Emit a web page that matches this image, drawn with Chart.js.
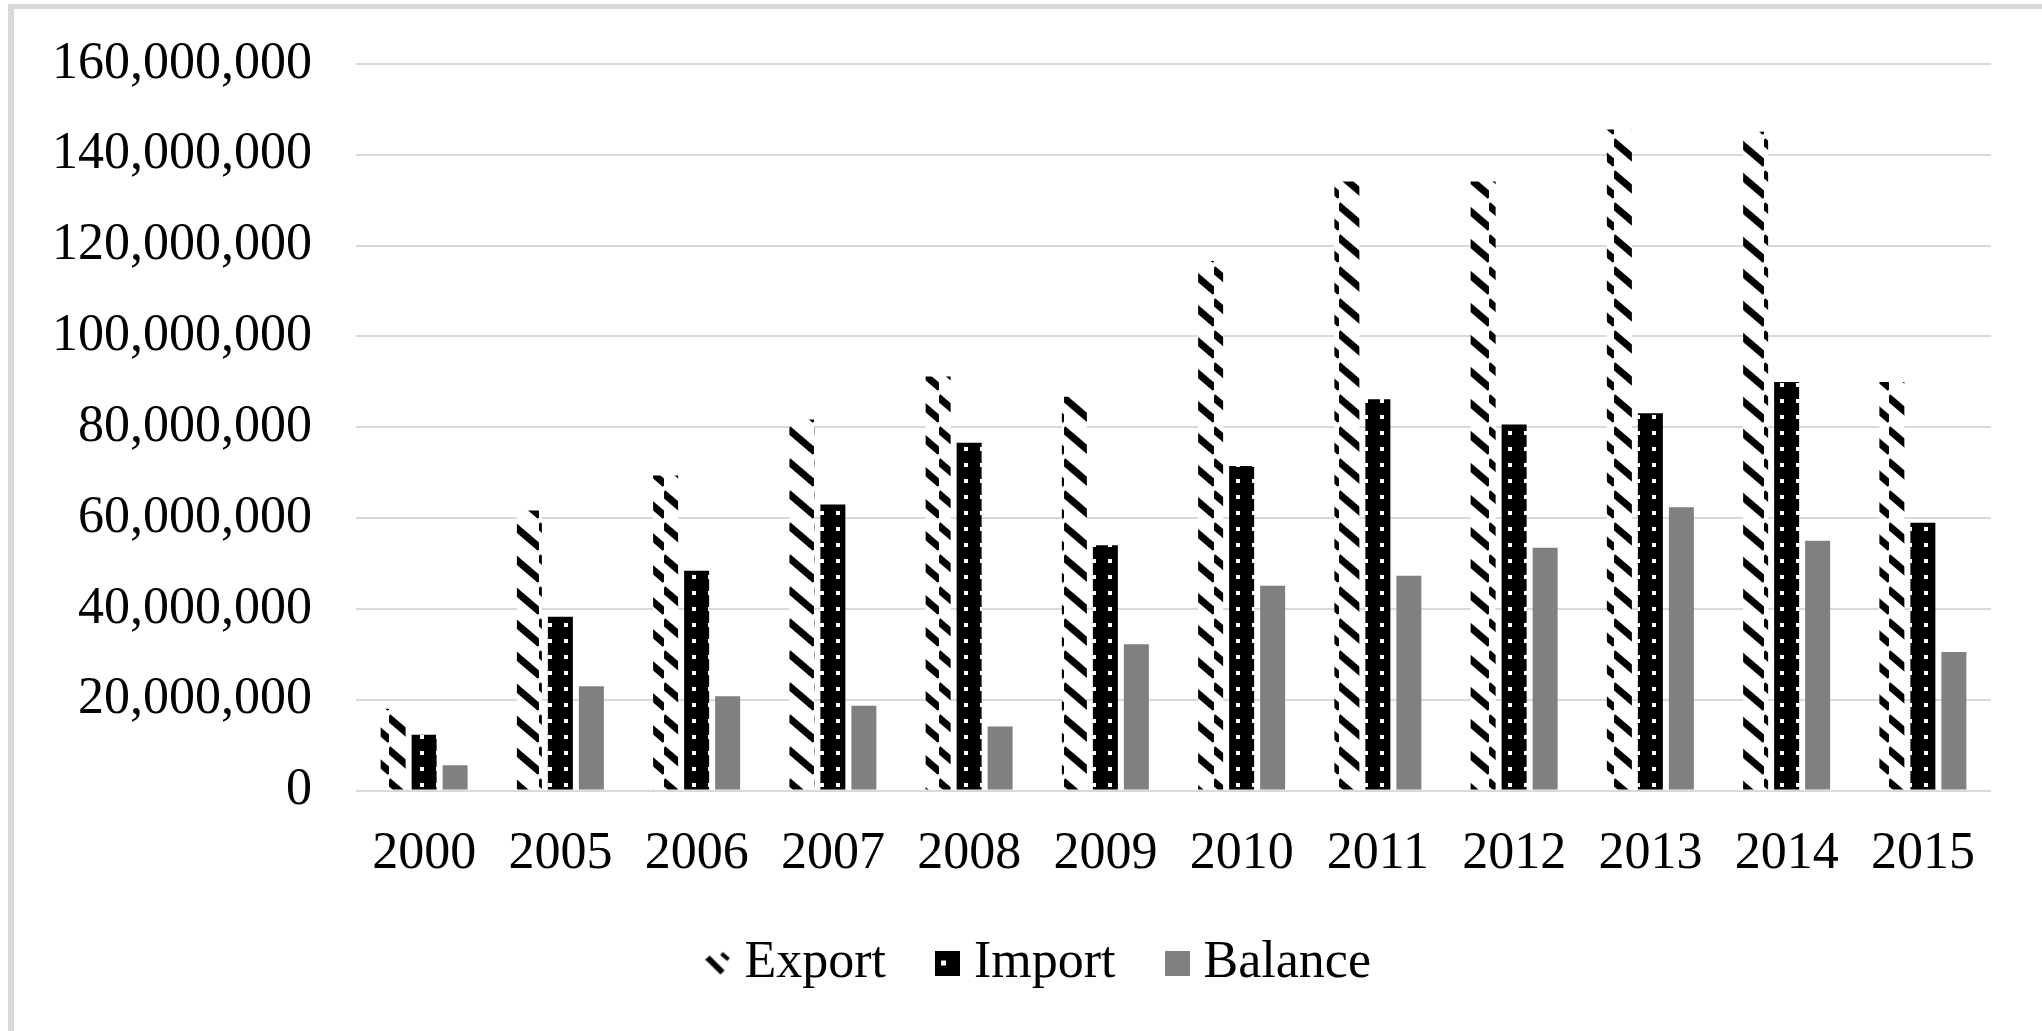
<!DOCTYPE html>
<html>
<head>
<meta charset="utf-8">
<script src="https://cdn.jsdelivr.net/npm/chart.js@4.4.0/dist/chart.umd.min.js"></script>
<style>
  html, body { margin: 0; padding: 0; background: #fff; overflow: hidden; }
  #frame {
    position: absolute; left: 8px; top: 4px; width: 2100px; height: 1100px;
    border-left: 6px solid #d9d9d9; border-top: 5px solid #d9d9d9;
  }
  #wrap { position: absolute; left: 14px; top: 9px; width: 2150px; height: 1060px; }
</style>
</head>
<body>
<div id="frame"></div>
<div id="wrap"><canvas id="myChart"></canvas></div>
<script>
// values in USD
var years = ["2000", "2005", "2006", "2007", "2008", "2009", "2010", "2011", "2012", "2013", "2014", "2015"];
var exportData = [18.0, 61.7, 69.4, 81.7, 91.2, 86.7, 116.6, 134.1, 134.1, 145.6, 145.1, 90.0].map(v => v * 1e6);
var importData = [12.3, 38.3, 48.4, 63.0, 76.6, 54.0, 71.5, 86.2, 80.6, 83.1, 90.0, 59.0].map(v => v * 1e6);
var balanceData = [5.6, 23.0, 20.8, 18.7, 14.1, 32.2, 45.1, 47.3, 53.5, 62.4, 55.0, 30.5].map(v => v * 1e6);
var seriesNames = ["Export", "Import", "Balance"];

var FONT = "'Liberation Serif', 'Times New Roman', serif";

function tile(w, h) {
    var c = document.createElement("canvas");
    c.width = w; c.height = h;
    return c;
}

// black dashes going down to the right on white
var exportTile = tile(25, 32);
(function() {
    var g = exportTile.getContext("2d");
    g.fillStyle = "#fff";
    g.fillRect(0, 0, 25, 32);
    g.strokeStyle = "#000";
    g.lineWidth = 7;
    [-32, 0, 32].forEach(function(dy) {
        g.beginPath();
        g.moveTo(-1, 4 + dy);
        g.lineTo(26, 27 + dy);
        g.stroke();
    });
})();
var exportFill = exportTile.getContext("2d").createPattern(exportTile, "repeat");

// black with small white squares
var importTile = tile(16, 16);
(function() {
    var g = importTile.getContext("2d");
    g.fillStyle = "#000";
    g.fillRect(0, 0, 16, 16);
    g.fillStyle = "#fff";
    g.fillRect(6, 6, 4, 4);
})();
var importFill = importTile.getContext("2d").createPattern(importTile, "repeat");

// legend swatches
var exportSwatch = tile(25, 25);
(function() {
    var g = exportSwatch.getContext("2d");
    g.strokeStyle = "#000";
    g.lineWidth = 6;
    g.beginPath(); g.moveTo(2, 7); g.lineTo(17, 22); g.stroke();
    g.lineWidth = 4;
    g.beginPath(); g.moveTo(16, 3); g.lineTo(23, 9); g.stroke();
})();
var importSwatch = tile(25, 25);
(function() {
    var g = importSwatch.getContext("2d");
    g.fillStyle = "#000";
    g.fillRect(0, 0, 25, 25);
    g.fillStyle = "#fff";
    g.fillRect(6, 10, 5, 5);
})();
var balanceSwatch = tile(25, 25);
(function() {
    var g = balanceSwatch.getContext("2d");
    g.fillStyle = "#808080";
    g.fillRect(0, 0, 25, 25);
})();
var swatches = [exportSwatch, importSwatch, balanceSwatch];

var ctx = document.getElementById("myChart").getContext("2d");
var myChart = new Chart(ctx, {
    type: "bar",
    data: {
        labels: years,
        datasets: [
            { label: seriesNames[0], data: exportData, backgroundColor: exportFill, borderWidth: 0 },
            { label: seriesNames[1], data: importData, backgroundColor: importFill, borderWidth: 0 },
            { label: seriesNames[2], data: balanceData, backgroundColor: "#808080", borderWidth: 0 }
        ]
    },
    options: {
        responsive: true,
        maintainAspectRatio: false,
        animation: false,
        layout: { padding: { left: 0, right: 89.5, top: 55, bottom: 70 } },
        datasets: { bar: { categoryPercentage: 0.6826, barPercentage: 0.806 } },
        scales: {
            x: {
                grid: { display: false },
                border: { display: false },
                afterFit: function(scale) { scale.height -= 35; },
                ticks: { color: "#000", padding: 25, font: { family: FONT, size: 52 } }
            },
            y: {
                min: 0,
                max: 160000000,
                afterFit: function(scale) {
                    scale.width = 342;
                    scale.paddingTop = 0;
                    scale.paddingBottom = 0;
                },
                grid: { color: "#d9d9d9", lineWidth: 2, drawTicks: false },
                border: { display: false },
                ticks: {
                    stepSize: 20000000,
                    padding: 44,
                    color: "#000",
                    font: { family: FONT, size: 52 },
                    callback: function(v) { return Number(v).toLocaleString("en-US"); }
                }
            },
            // empty right-hand spacer so the legend sits where the original one does
            spacer: {
                type: "linear",
                position: "right",
                grid: { display: false },
                border: { display: false },
                ticks: { display: false },
                afterFit: function(scale) { scale.width = 83.5; }
            }
        },
        plugins: {
            tooltip: { enabled: false },
            legend: {
                position: "bottom",
                labels: {
                    usePointStyle: true,
                    pointStyleWidth: 1,
                    padding: 61,
                    color: "#000",
                    font: { family: FONT, size: 52 },
                    generateLabels: function(chart) {
                        var items = Chart.defaults.plugins.legend.labels.generateLabels(chart);
                        items.forEach(function(item, i) { item.pointStyle = swatches[i]; });
                        return items;
                    }
                }
            }
        }
    }
});
</script>
</body>
</html>
